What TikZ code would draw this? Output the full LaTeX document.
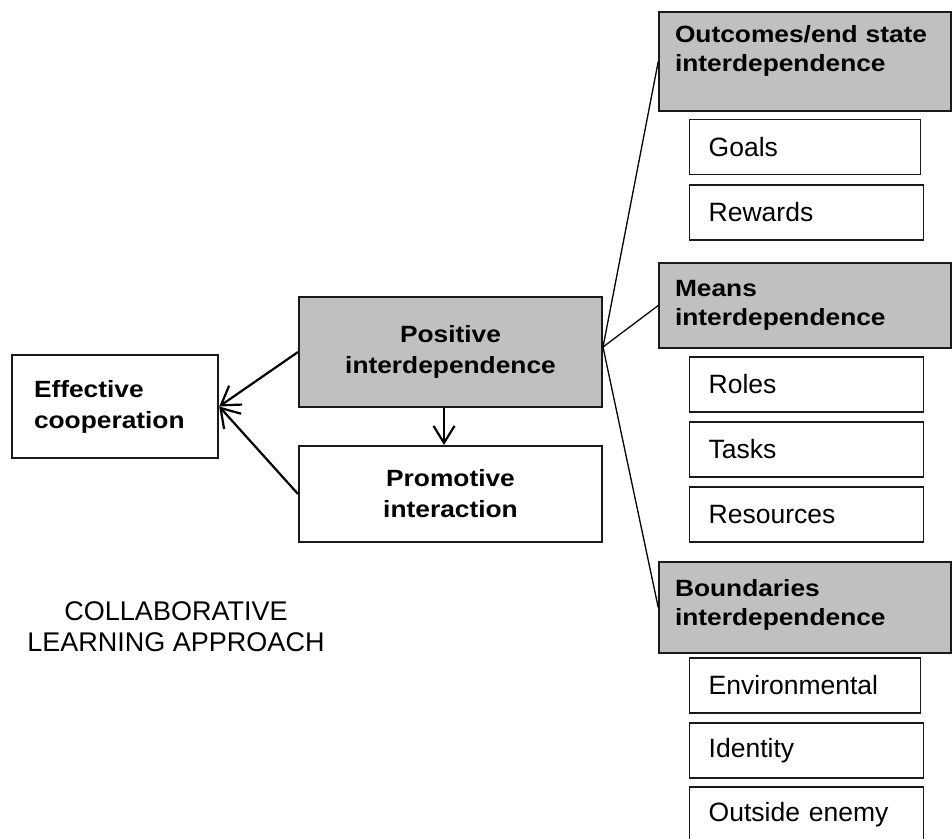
\documentclass[tikz,border=0pt]{standalone}
\usepackage{fontspec}
\setmainfont{Liberation Sans}
\newfontfamily\bfw{Liberation Sans}[FakeStretch=1.12]
\usetikzlibrary{arrows.meta}
\definecolor{boxgray}{HTML}{C0C0C0}
\definecolor{edge}{HTML}{1A1A1A}
\tikzset{
  bigbold/.style={font={\bfw\bfseries\fontsize{23.5}{31}\selectfont}},
  rbold/.style={font={\bfw\bfseries\fontsize{23.5}{29}\selectfont}},
  reg/.style={font={\fontsize{26.5}{31}\selectfont}},
  effbox/.style={draw=edge, line width=2.4pt, minimum width=206pt, minimum height=103pt,
    text width=162pt, inner xsep=22pt, inner ysep=0pt, align=left, bigbold},
  midbox/.style={draw=edge, line width=2pt, minimum width=303pt, inner ysep=0pt,
    align=center, bigbold},
  headbox/.style={draw=edge, fill=boxgray, line width=1.5pt, text width=260pt,
    inner xsep=16pt, inner ysep=0pt, align=left, rbold},
  subbox/.style={draw=edge, line width=1.4pt, minimum height=55pt, inner xsep=19pt,
    inner ysep=0pt, align=left, anchor=west, reg},
  arr/.style={draw=black, line width=2.2pt, -{Straight Barb[length=18pt,width=23pt,line width=2.2pt]}},
  link/.style={draw=black, line width=1.3pt}
}
\begin{document}
\begin{tikzpicture}[x=1pt,y=-1pt]
\useasboundingbox (0,0) rectangle (952,838);
\fill[white] (0,0) rectangle (952,838);

% left part
\node[effbox] (eff) at (115,406.5) {Effective\\cooperation};
\node[midbox, fill=boxgray, minimum height=110pt] (pos) at (450.5,352) {Positive\\interdependence};
\node[midbox, minimum height=96pt] (pro) at (450.5,494) {Promotive\\interaction};
\node[reg, align=center, font={\fontsize{27}{31}\selectfont}] (title) at (176,626.5) {COLLABORATIVE\\LEARNING APPROACH};

% right column heads
\node[headbox, minimum height=99pt] (out) at (805,61.5) {Outcomes/end state\\interdependence\rule[-26pt]{0pt}{0pt}};
\node[headbox, minimum height=85pt] (means) at (805,305.5) {Means\\interdependence};
\node[headbox, minimum height=91pt] (bound) at (805,607.5) {Boundaries\\interdependence\rule[-11pt]{0pt}{0pt}};

% sub boxes
\node[subbox, text width=193pt] (goals) at (689,147) {Goals};
\node[subbox, text width=196pt] (rewards) at (689,212.5) {Rewards};
\node[subbox, text width=196pt] (roles) at (689,384.5) {Roles};
\node[subbox, text width=196pt] (tasks) at (689,449.5) {Tasks};
\node[subbox, text width=196pt] (resources) at (689,514.5) {Resources};
\node[subbox, text width=193pt] (env) at (689,685.5) {Environmental};
\node[subbox, text width=196pt] (identity) at (689,750.5) {Identity};
\node[subbox, text width=196pt] (enemy) at (689,814.5) {Outside enemy};

% connectors
\coordinate (hub) at ([yshift=5pt]pos.east);
\draw[link] (hub) -- (out.west);
\draw[link] (hub) -- (means.west);
\draw[link] (hub) -- (bound.west);
\draw[arr] (pos.west) -- (eff.east);
\draw[arr] (pro.west) -- (eff.east);
\draw[arr, -{Straight Barb[length=17pt,width=21pt,line width=2.2pt]}] ([xshift=-6.5pt]pos.south) -- ([xshift=-6.5pt]pro.north);
\end{tikzpicture}
\end{document}
